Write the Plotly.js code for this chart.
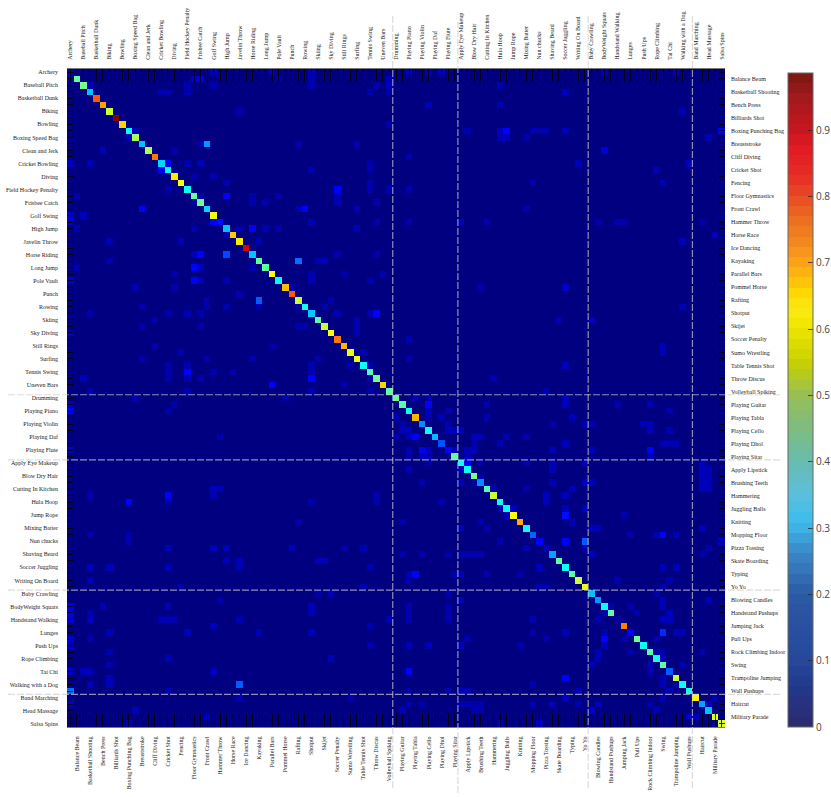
<!DOCTYPE html>
<html><head><meta charset="utf-8">
<script src="https://cdn.plot.ly/plotly-3.0.1.min.js"></script>
<style>html,body{margin:0;padding:0;background:#fff}</style></head>
<body><div id="chart" style="width:831px;height:797px"></div>
<script>
const leftTopLabels = ["Archery","Baseball Pitch","Basketball Dunk","Biking","Bowling","Boxing Speed Bag","Clean and Jerk","Cricket Bowling","Diving","Field Hockey Penalty","Frisbee Catch","Golf Swing","High Jump","Javelin Throw","Horse Riding","Long Jump","Pole Vault","Punch","Rowing","Skiing","Sky Diving","Still Rings","Surfing","Tennis Swing","Uneven Bars","Drumming","Playing Piano","Playing Violin","Playing Daf","Playing Flute","Apply Eye Makeup","Blow Dry Hair","Cutting In Kitchen","Hula Hoop","Jump Rope","Mixing Batter","Nun chucks","Shaving Beard","Soccer Juggling","Writing On Board","Baby Crawling","BodyWeight Squats","Handstand Walking","Lunges","Push Ups","Rope Climbing","Tai Chi","Walking with a Dog","Band Marching","Head Massage","Salsa Spins"];
const rightBottomLabels = ["Balance Beam","Basketball Shooting","Bench Press","Billiards Shot","Boxing Punching Bag","Breaststroke","Cliff Diving","Cricket Shot","Fencing","Floor Gymnastics","Front Crawl","Hammer Throw","Horse Race","Ice Dancing","Kayaking","Parallel Bars","Pommel Horse","Rafting","Shotput","Skijet","Soccer Penalty","Sumo Wrestling","Table Tennis Shot","Throw Discus","Volleyball Spiking","Playing Guitar","Playing Tabla","Playing Cello","Playing Dhol","Playing Sitar","Apply Lipstick","Brushing Teeth","Hammering","Juggling Balls","Knitting","Mopping Floor","Pizza Tossing","Skate Boarding","Typing","Yo Yo","Blowing Candles","Handstand Pushups","Jumping Jack","Pull Ups","Rock Climbing Indoor","Swing","Trampoline Jumping","Wall Pushups","Haircut","Military Parade"];
const diagonal = [.05,.46,.48,.30,.78,.71,.57,.98,.66,.37,.53,.30,.54,.75,.32,.36,.64,.62,.37,.46,.47,.32,.60,.12,.30,.67,.64,.90,.30,.46,.46,.62,.36,.68,.78,.56,.37,.31,.45,.56,.62,.75,.69,.60,.60,.37,.44,.48,.66,.46,.47,.45,.37,.69,.25,.37,.29,.19,.11,.46,.37,.37,.48,.25,.44,.56,.37,.37,.62,.70,.37,.21,.11,.05,.27,.46,.37,.45,.57,.60,.30,.26,.37,.46,.02,.74,.11,.47,.37,.45,.38,.46,.20,.56,.37,.39,.63,.27,.30,.58,.58];
// [row, col, value] confusions
const offDiagonal = [
[0,22,.05],[0,31,.05],[0,37,.04],[0,52,.05],[0,55,.05],[0,57,.05],[0,82,.05],[0,93,.05],
[1,0,.05],[1,19,.07],[1,20,.09],[1,32,.04],[1,37,.04],[1,49,.05],
[2,3,.05],[2,18,.04],[2,22,.04],[2,37,.04],[2,47,.04],[2,49,.05],[2,66,.04],
[3,14,.04],[3,15,.04],[3,18,.04],[3,46,.04],[3,49,.03],[3,76,.05],
[5,55,.05],[5,66,.05],[6,26,.04],[6,94,.05],[8,49,.03],
[9,10,.05],[9,61,.04],[9,66,.05],[9,67,.11],[9,71,.04],[9,72,.04],[9,73,.04],[9,76,.05],[9,100,.1],
[10,9,.05],[10,66,.05],[10,67,.05],[10,70,.04],[10,98,.05],
[11,20,.04],[11,21,.26],[11,35,.04],[11,44,.04],
[12,5,.05],[12,16,.04],[12,82,.08],[13,52,.04],
[14,0,.06],[14,3,.05],[14,15,.11],[14,18,.04],[14,20,.05],[14,46,.04],[14,78,.05],[14,95,.05],
[15,14,.11],[15,37,.04],[15,46,.04],[15,90,.05],
[16,19,.04],[16,22,.04],[17,24,.04],[17,46,.04],[17,71,.04],[17,91,.05],
[18,15,.04],[18,41,.11],[18,46,.04],[18,49,.04],[18,52,.04],
[19,1,.04],[19,20,.04],[19,24,.11],[19,28,.04],[19,32,.04],[19,41,.04],
[20,19,.03],[20,28,.04],[20,30,.04],[20,41,.04],[20,47,.04],
[21,11,.11],[21,35,.04],[21,36,.11],[21,44,.04],[21,70,.04],
[22,0,.07],[22,2,.05],[23,0,.07],[23,22,.11],[23,37,.04],[23,47,.04],[23,52,.04],[23,60,.05],[23,64,.04],[23,81,.04],[23,84,.04],[23,85,.04],[23,97,.04],
[24,1,.04],[24,19,.04],[24,26,.04],[24,28,.11],[24,30,.04],[24,32,.04],[24,44,.05],
[25,24,.04],[25,99,.05],[26,6,.04],[26,17,.04],[26,29,.04],[26,94,.05],
[28,19,.05],[28,20,.11],[28,24,.18],[28,41,.04],[28,47,.04],[29,6,.04],[29,35,.22],[29,38,.05],[29,39,.05],
[30,1,.04],[30,19,.11],[30,20,.05],[30,28,.04],[31,16,.04],[31,37,.04],[31,42,.04],[31,48,.04],
[32,0,.07],[32,19,.11],[32,20,.05],[32,24,.04],[32,37,.04],[32,46,.04],
[33,10,.04],[33,16,.04],[33,34,.04],[33,63,.04],[33,76,.06],[34,26,.04],
[35,21,.04],[35,29,.2],[35,40,.04],[36,11,.04],[36,21,.04],[36,24,.04],[36,29,.04],[36,35,.04],[36,39,.04],[36,94,.05],
[37,3,.04],[37,15,.04],[37,18,.04],[37,20,.04],[37,41,.04],[37,46,.04],[37,47,.11],
[38,13,.04],[38,44,.04],[38,75,.05],[38,80,.05],
[39,11,.04],[39,20,.04],[39,35,.04],[39,36,.04],[39,44,.04],[40,0,.06],[40,44,.04],[41,52,.04],
[42,13,.04],[42,31,.04],[42,91,.05],[43,17,.04],[43,45,.04],[43,91,.05],
[44,11,.04],[44,21,.04],[44,28,.04],[44,38,.04],[44,52,.04],
[45,15,.04],[45,18,.04],[45,37,.04],[45,43,.04],[45,46,.04],[45,76,.05],
[46,15,.04],[46,18,.11],[46,22,.04],[46,25,.04],[46,37,.04],
[47,2,.05],[47,15,.04],[47,18,.04],[47,20,.04],[47,37,.11],[47,46,.04],[47,65,.04],
[48,31,.11],[48,42,.04],[49,3,.04],[49,18,.04],[49,37,.04],[49,46,.04],[49,73,.04],
[50,10,.04],[50,33,.04],[50,53,.04],[50,55,.04],[50,76,.05],
[51,0,.06],[51,16,.04],[51,55,.11],[51,64,.04],[51,76,.05],[51,84,.04],[51,89,.05],
[52,0,.11],[52,15,.04],[52,55,.05],[52,58,.04],[52,92,.04],
[53,50,.04],[53,55,.04],[53,57,.04],[53,64,.04],[53,77,.05],
[54,51,.04],[54,58,.04],[54,74,.04],[54,79,.04],[54,80,.04],[54,88,.05],[54,89,.05],
[55,51,.05],[55,52,.05],[55,58,.05],[55,59,.05],[55,60,.05],[55,89,.05],[55,92,.05],
[56,23,.04],[56,50,.04],[56,52,.04],[56,53,.11],[56,62,.05],[56,63,.05],[56,67,.04],[56,70,.04],
[57,62,.04],[57,66,.04],[57,76,.05],[57,91,.04],[57,92,.04],[57,93,.04],
[58,0,.06],[58,52,.04],[58,54,.11],[58,55,.05],[58,59,.05],[58,61,.05],[58,62,.05],[58,74,.05],[58,80,.05],[58,89,.11],
[59,52,.04],[59,54,.05],[59,55,.05],[59,61,.05],[59,89,.05],
[60,55,.04],[60,61,.11],[60,63,.04],[60,70,.04],[60,74,.05],[60,79,.05],[60,97,.05],
[61,52,.04],[61,60,.05],[61,74,.05],[61,97,.05],[61,98,.05],[62,63,.04],[62,97,.05],[62,98,.05],
[63,54,.04],[63,60,.05],[63,62,.04],[63,74,.05],[63,79,.05],[63,80,.05],[63,97,.05],[63,98,.05],
[64,22,.05],[64,23,.05],[64,65,.04],[64,70,.04],[64,77,.05],[64,97,.05],[64,98,.05],
[65,3,.04],[65,15,.11],[65,22,.04],[65,47,.04],[65,73,.05],[65,76,.05],
[66,9,.11],[66,15,.04],[66,37,.04],[66,47,.04],[66,57,.04],[66,73,.05],
[67,66,.04],[67,68,.05],[67,76,.05],[67,79,.05],[68,67,.05],[68,76,.12],[68,85,.04],
[69,35,.04],[69,51,.04],[69,63,.04],[69,77,.05],[70,60,.05],[70,64,.04],[70,80,.05],[70,81,.05],[70,97,.05],
[71,3,.04],[71,9,.04],[71,86,.04],[71,90,.04],[71,91,.11],[71,93,.05],
[72,9,.04],[72,66,.04],[72,76,.11],[72,79,.2],[72,100,.05],
[73,15,.05],[73,22,.05],[73,24,.06],[73,34,.05],[73,42,.04],[73,45,.05],[73,70,.05],[73,79,.04],[73,98,.04],
[74,51,.04],[74,54,.04],[74,58,.04],[74,60,.04],[74,61,.04],[74,62,.04],[74,63,.04],[74,80,.05],[74,97,.04],
[75,24,.05],[75,26,.05],[75,38,.05],[75,39,.05],
[76,3,.05],[76,6,.05],[76,15,.05],[76,26,.04],[76,46,.04],[76,72,.05],[76,91,.05],[76,93,.05],
[77,52,.04],[77,53,.11],[77,59,.04],[77,60,.05],[77,64,.04],[77,69,.04],
[78,3,.05],[78,52,.04],[78,84,.04],[78,92,.04],[79,17,.04],[79,45,.04],[79,72,.04],[79,73,.04],[79,91,.04],
[80,38,.04],[80,40,.05],[80,58,.04],[80,90,.04],
[81,23,.04],[81,60,.05],[81,91,.05],[81,98,.05],
[82,0,.09],[82,5,.05],[82,15,.05],[82,37,.05],[82,52,.04],[82,58,.04],[82,83,.04],[82,86,.04],[82,91,.05],
[83,0,.09],[83,3,.04],[83,37,.04],[83,52,.04],[83,58,.04],[83,82,.04],[83,87,.04],[83,92,.05],
[84,0,.07],[84,3,.05],[84,14,.04],[84,15,.04],[84,16,.04],[84,26,.04],[84,49,.04],[84,52,.04],[84,58,.04],[84,71,.04],[84,81,.04],[84,91,.05],[84,92,.05],
[85,22,.05],[85,46,.04],
[86,6,.05],[86,18,.05],[86,29,.05],[86,37,.05],[86,71,.04],[86,76,.05],[86,82,.04],[86,91,.15],[86,93,.05],[86,94,.05],
[87,0,.07],[87,3,.04],[87,61,.04],[87,73,.04],[87,82,.11],[87,85,.04],[87,90,.04],
[88,0,.05],[88,46,.04],[88,52,.05],[88,55,.05],[88,60,.05],[88,69,.04],[88,82,.05],
[89,6,.04],[89,81,.05],[89,86,.04],[89,90,.04],[89,91,.04],[89,97,.04],
[90,15,.05],[90,40,.05],[90,81,.05],[90,91,.05],[91,6,.04],[91,80,.05],[91,89,.05],[91,94,.05],
[92,0,.06],[92,2,.05],[92,3,.05],[92,22,.05],[92,52,.11],[92,89,.04],
[93,6,.05],[93,76,.11],[93,91,.05],
[94,3,.05],[94,6,.05],[94,26,.2],[94,71,.04],[94,91,.05],[94,93,.04],
[95,0,.22],[95,15,.05],[95,52,.04],[95,58,.04],[95,60,.05],[95,61,.05],[95,78,.05],[95,92,.05],
[96,26,.04],[96,43,.04],[96,76,.05],[96,91,.05],[96,99,.04],
[97,0,.05],[97,52,.04],[97,54,.04],[97,60,.04],[97,61,.04],[97,62,.04],[97,63,.04],[97,71,.04],[97,74,.05],[97,78,.04],[97,81,.05],[97,89,.04],[97,98,.05],
[98,10,.05],[98,51,.05],[98,62,.04],[98,63,.04],[98,80,.06],[98,90,.05],
[99,21,.05],[99,95,.06],[99,96,.05],
[100,9,.05],[100,66,.05],[100,72,.05]
];
const dividers = [49.5,59.5,79.5,95.5];
const colorbarTicks = [0,.1,.2,.3,.4,.5,.6,.7,.8,.9];
const zMax = 0.986;

const z = diagonal.map((d,i)=>diagonal.map((_,j)=>i===j?d:0));
offDiagonal.forEach(([r,c,v])=>{z[r][c]=v;});
const idx = diagonal.map((_,i)=>i);
const evenText = idx.map(i=>i%2===0?leftTopLabels[i/2]:"");
const oddText = idx.map(i=>i%2===1?rightBottomLabels[(i-1)/2]:"");
// the reference has no top tick through the first bright diagonal cell
const topIdx = idx.filter(i=>i!==1);
const topText = topIdx.map(i=>evenText[i]);

// jet colours of the cells
const cellScale = [[0,'#000080'],[0.11,'#0000ff'],[0.235,'#0080ff'],[0.36,'#00ffff'],[0.49,'#80ff80'],[0.62,'#ffff00'],[0.74,'#ff8000'],[0.87,'#ff0000'],[1,'#800000']].map(([v,c])=>[Math.min(1,v/zMax),c]);
cellScale[cellScale.length-1][0]=1;
// paler printed colours of the bar
const barStops = [[0,'#2b2a6b'],[.03,'#28307e'],[.06,'#1f3a8c'],[.1,'#27479a'],[.15,'#2a50a0'],[.2,'#2b5aa5'],[.23,'#3470b5'],[.26,'#3a85c5'],[.29,'#3fa5dd'],[.31,'#3dbcee'],[.35,'#5cbfdc'],[.4,'#68bcb0'],[.45,'#7ebd80'],[.5,'#98be55'],[.55,'#c8d000'],[.58,'#dedc00'],[.61,'#f2e800'],[.63,'#fbe918'],[.65,'#ffdd00'],[.67,'#fec40a'],[.7,'#fba319'],[.73,'#f3891e'],[.77,'#ec6a23'],[.8,'#e84a24'],[.83,'#e62e26'],[.87,'#e31b23'],[.9,'#c8171e'],[.95,'#a11a1c'],[.986,'#7a1810']];
function hex(c){return [1,3,5].map(i=>parseInt(c.substr(i,2),16));}
function barColor(v){
  for(let i=1;i<barStops.length;i++){
    if(v<=barStops[i][0]){
      const [a,ca]=barStops[i-1],[b,cb]=barStops[i];const t=(v-a)/(b-a);
      const A=hex(ca),B=hex(cb);
      return 'rgb('+A.map((x,k)=>Math.round(x+(B[k]-x)*t)).join(',')+')';
    }
  }
  return barStops[barStops.length-1][1];
}
const barScale=[];const levels=64;
for(let i=0;i<levels;i++){
  const c=barColor((i+.5)/levels*zMax);
  barScale.push([i/levels,c]);barScale.push([(i+1)/levels,c]);
}

const serif={family:'"Liberation Serif",serif',size:6,color:'#222'};
const common={range:[-0.5,100.5],tickmode:'array',tickvals:idx,ticks:'inside',tickcolor:'rgba(0,0,0,.8)',tickwidth:1,showgrid:false,zeroline:false,tickfont:serif,automargin:false};
const PW=658,PH=658,PT=69;
const py=p=>(PT+PH-p)/PH, px=p=>(p-67)/PW;

const shapes=[];
const dash='rgba(205,205,205,0.7)';
dividers.forEach((d,i)=>{
  shapes.push({type:'line',xref:'x',yref:'paper',x0:d,x1:d,y0:py(i===1?793:788),y1:py(i===1?22:15),line:{color:dash,width:1.2,dash:'7px,2px'}});
  shapes.push({type:'line',yref:'y',xref:'paper',y0:d,y1:d,x0:px(8),x1:px(781),line:{color:dash,width:1.2,dash:'7px,2px'}});
});
colorbarTicks.forEach(v=>{
  const p=727-v*66.33;
  if(v>0) shapes.push({type:'line',xref:'paper',yref:'paper',x0:px(788),x1:px(793),y0:py(p),y1:py(p),line:{color:'rgba(50,40,40,.8)',width:1}});
});

const data=[
 {type:'heatmap',z:z,xaxis:'x',yaxis:'y',colorscale:barScale,zmin:0,zmax:zMax,hoverinfo:'skip',
  showscale:true,colorbar:{x:px(788),xanchor:'left',xpad:0,ypad:0,y:0,yanchor:'bottom',len:654/PH,lenmode:'fraction',thickness:25,thicknessmode:'pixels',
   outlinecolor:'#666',outlinewidth:1,tickmode:'array',tickvals:colorbarTicks,ticktext:colorbarTicks.map(String),ticks:'inside',ticklen:5,tickcolor:'rgba(50,40,40,.8)',tickfont:{family:'"Open Sans",sans-serif',size:10,color:'#444'}}},
 {type:'heatmap',z:z,xaxis:'x2',yaxis:'y2',colorscale:cellScale,zmin:0,zmax:zMax,showscale:false,hoverinfo:'skip'}
];
const layout={
 width:831,height:797,margin:{l:67,r:106,t:PT,b:70,pad:0,autoexpand:false},paper_bgcolor:'#fff',plot_bgcolor:'#000080',showlegend:false,shapes:shapes,
 xaxis:Object.assign({},common,{side:'bottom',anchor:'y',ticktext:oddText,tickangle:-90,ticklen:13,showline:true,linecolor:'#777',linewidth:1,ticklabelstandoff:6}),
 xaxis2:Object.assign({},common,{side:'top',anchor:'y2',overlaying:'x',tickvals:topIdx,ticktext:topText,tickangle:-90,ticklen:13,showline:true,linecolor:'#777',linewidth:1,ticklabelstandoff:7}),
 yaxis:Object.assign({},common,{side:'left',anchor:'x',range:[100.5,-0.5],ticktext:evenText,ticklen:6,showline:false,ticklabelstandoff:8}),
 yaxis2:Object.assign({},common,{side:'right',anchor:'x2',overlaying:'y',range:[100.5,-0.5],ticktext:oddText,ticklen:6,showline:false,ticklabelstandoff:5})
};
Plotly.newPlot('chart',data,layout,{displayModeBar:false,staticPlot:true});
</script></body></html>
